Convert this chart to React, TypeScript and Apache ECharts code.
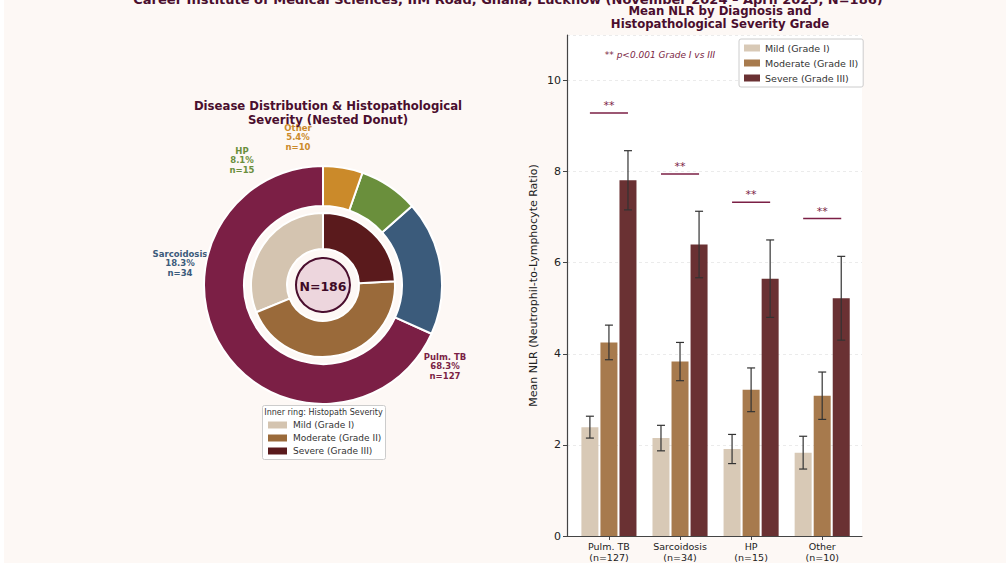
import React, { useEffect, useRef } from "react";
import * as echarts from "echarts";

const FONT = "DejaVu Sans";

const diagnoses = ["Pulm. TB", "Sarcoidosis", "HP", "Other"];
const diagnosisCounts = [127, 34, 15, 10];
const diagnosisPct = ["68.3%", "18.3%", "8.1%", "5.4%"];
const diagnosisColors = ["#7b1f45", "#3b5b7b", "#6a8f3c", "#cb8a2a"];

const severityNames = ["Mild (Grade I)", "Moderate (Grade II)", "Severe (Grade III)"];
const severityCounts = [58, 83, 45];
const severityColors = ["#d4c4b0", "#9a6a3a", "#5a1a1c"];
const barColors = ["#d8c9b6", "#a77a4d", "#6a3133"];

const xLabels = ["Pulm. TB\n(n=127)", "Sarcoidosis\n(n=34)", "HP\n(n=15)", "Other\n(n=10)"];
const mildNLR = [2.39, 2.15, 1.91, 1.83];
const mildErr = [0.24, 0.28, 0.32, 0.36];
const moderateNLR = [4.25, 3.83, 3.21, 3.08];
const moderateErr = [0.38, 0.42, 0.48, 0.52];
const severeNLR = [7.81, 6.40, 5.65, 5.22];
const severeErr = [0.65, 0.73, 0.85, 0.92];
const sigLineY = [9.29, 7.95, 7.33, 6.97];
const yTicks = [0, 2, 4, 6, 8, 10];
const xPositions = [0, 1, 2, 3];

const TITLE_COLOR = "#4a0e2e";
const SIG_COLOR = "#7b1f45";

export default function App() {
  const ref = useRef<HTMLDivElement>(null);
  useEffect(() => {
    document.body.style.margin = "0";
    const chart = echarts.init(ref.current!, null, { renderer: "svg" });
    const means = [mildNLR, moderateNLR, severeNLR];
    const errs = [mildErr, moderateErr, severeErr];
    const errData: number[][] = [];
    means.forEach((arr, s) => arr.forEach((m, i) => errData.push([xPositions[i], m - errs[s][i], m + errs[s][i], s - 1])));
    const OFF = 19.04;

    const labelPos = [
      { x: 445, y: 352 },
      { x: 180, y: 249 },
      { x: 242, y: 146 },
      { x: 298, y: 123 },
    ];
    const graphics: any[] = [
      { type: "rect", left: 0, top: 0, shape: { width: 4, height: 563 }, style: { fill: "#ffffff" }, silent: true },
      {
        type: "text", x: 508, y: 6,
        style: {
          text: "Career Institute of Medical Sciences, IIM Road, Ghaila, Lucknow (November 2024 – April 2025, N=186)",
          fill: TITLE_COLOR, font: `bold 13px "${FONT}"`, textAlign: "center", textVerticalAlign: "bottom",
        },
      },
      {
        type: "text", x: 660, y: 55,
        style: { text: "** p<0.001 Grade I vs III", fill: SIG_COLOR, font: `italic 9px "${FONT}"`, textAlign: "center", textVerticalAlign: "middle" },
      },
      { type: "circle", shape: { cx: 323, cy: 285, r: 27 }, style: { fill: "#edd6dd", stroke: TITLE_COLOR, lineWidth: 2 }, z: 10 },
      {
        type: "text", x: 323, y: 286, z: 11,
        style: { text: "N=186", fill: "#3d0a26", font: `bold 12.5px "${FONT}"`, textAlign: "center", textVerticalAlign: "middle" },
      },
      { type: "rect", shape: { x: 262.5, y: 405.5, width: 123, height: 54, r: 2 }, style: { fill: "#ffffff", stroke: "#cccccc", lineWidth: 1 } },
      {
        type: "text", x: 323.5, y: 412,
        style: { text: "Inner ring: Histopath Severity", fill: "#333", font: `8px "${FONT}"`, textAlign: "center", textVerticalAlign: "middle" },
      },
    ];
    severityNames.forEach((n, k) => {
      graphics.push({ type: "rect", shape: { x: 268, y: 421.5 + k * 13, width: 19, height: 7 }, style: { fill: severityColors[k] } });
      graphics.push({
        type: "text", x: 293, y: 425 + k * 13,
        style: { text: n, fill: "#333", font: `9px "${FONT}"`, textAlign: "left", textVerticalAlign: "middle" },
      });
    });
    diagnoses.forEach((d, i) => {
      graphics.push({
        type: "text", x: labelPos[i].x, y: labelPos[i].y,
        style: {
          text: `${d}\n${diagnosisPct[i]}\nn=${diagnosisCounts[i]}`,
          fill: diagnosisColors[i], font: `bold 8.5px "${FONT}"`, lineHeight: 9.5,
          textAlign: "center", textVerticalAlign: "top",
        },
      });
    });

    const option: any = {
      animation: false,
      backgroundColor: "#fdf8f5",
      textStyle: { fontFamily: FONT },
      title: [
        {
          text: "Disease Distribution & Histopathological\nSeverity (Nested Donut)",
          left: 323, top: 94, textAlign: "center",
          textStyle: { fontFamily: FONT, fontSize: 11.7, fontWeight: "bold", color: TITLE_COLOR, lineHeight: 14 },
        },
        {
          text: "Mean NLR by Diagnosis and\nHistopathological Severity Grade",
          left: 715, top: -1, textAlign: "center",
          textStyle: { fontFamily: FONT, fontSize: 11.7, fontWeight: "bold", color: TITLE_COLOR, lineHeight: 13 },
        },
      ],
      legend: {
        orient: "vertical", left: 739, top: 39,
        data: severityNames,
        backgroundColor: "#ffffff", borderColor: "#cccccc", borderWidth: 1, borderRadius: 2,
        padding: [4, 5, 4, 5], itemWidth: 16, itemHeight: 7, itemGap: 5,
        textStyle: { fontFamily: FONT, fontSize: 9.5, color: "#333" },
        icon: "rect",
      },
      grid: {
        left: 567, right: 144, top: 35, bottom: 26, show: true, backgroundColor: "#ffffff", borderWidth: 0,
      },
      xAxis: {
        type: "value", min: -0.59, max: 3.56,
        axisLine: { onZero: false, lineStyle: { color: "#444", width: 1.2 } },
        axisTick: { show: true, length: 4, lineStyle: { color: "#444" }, customValues: xPositions },
        axisLabel: {
          fontFamily: FONT, fontSize: 9.5, color: "#222", lineHeight: 11, margin: 5,
          customValues: xPositions, formatter: (v: number) => xLabels[Math.round(v)] ?? "",
        },
        splitLine: { show: false },
      },
      yAxis: {
        type: "value", min: 0, max: 11, interval: 2,
        name: "Mean NLR (Neutrophil-to-Lymphocyte Ratio)", nameLocation: "middle", nameGap: 28,
        nameTextStyle: { fontFamily: FONT, fontSize: 11, color: "#222" },
        axisLine: { show: true, onZero: false, lineStyle: { color: "#444", width: 1.2 } },
        axisTick: { show: true, length: 4, lineStyle: { color: "#444" } },
        axisLabel: {
          fontFamily: FONT, fontSize: 11, color: "#222", margin: 6, showMaxLabel: false,
          formatter: (v: number) => (yTicks.includes(v) ? String(v) : ""),
        },
        splitLine: { show: true, lineStyle: { color: "#e6e6e6", type: [3, 3], width: 0.8 } },
      },
      series: [
        ...severityNames.map((n, s) => ({
          type: "bar", name: n, data: means[s].map((v, i) => [xPositions[i], v]), barWidth: 17, barGap: "12%",
          itemStyle: { color: barColors[s] },
        })),
        {
          type: "custom", name: "err", data: errData, z: 5,
          encode: { x: 0, y: [1, 2] },
          renderItem: (p: any, api: any) => {
            const lo = api.coord([api.value(0), api.value(1)]);
            const hi = api.coord([api.value(0), api.value(2)]);
            const x = lo[0] + api.value(3) * OFF;
            const st = { stroke: "#333", lineWidth: 1.2 };
            return {
              type: "group",
              children: [
                { type: "line", shape: { x1: x, y1: lo[1], x2: x, y2: hi[1] }, style: st },
                { type: "line", shape: { x1: x - 4, y1: lo[1], x2: x + 4, y2: lo[1] }, style: st },
                { type: "line", shape: { x1: x - 4, y1: hi[1], x2: x + 4, y2: hi[1] }, style: st },
              ],
            };
          },
        },
        {
          type: "custom", name: "sig", data: sigLineY.map((v, i) => [xPositions[i], v]), z: 5,
          encode: { x: 0, y: 1 },
          renderItem: (p: any, api: any) => {
            const c = api.coord([api.value(0), api.value(1)]);
            return {
              type: "group",
              children: [
                { type: "line", shape: { x1: c[0] - OFF, y1: c[1], x2: c[0] + OFF, y2: c[1] }, style: { stroke: SIG_COLOR, lineWidth: 1.5 } },
                {
                  type: "text",
                  style: {
                    text: "**", x: c[0], y: c[1] - 2, fill: SIG_COLOR, font: `11px "${FONT}"`,
                    textAlign: "center", textVerticalAlign: "bottom",
                  },
                },
              ],
            };
          },
        },
        {
          type: "pie", name: "Diagnosis", center: [323, 285], radius: [79, 119],
          startAngle: 90, clockwise: false,
          label: { show: false }, labelLine: { show: false }, emphasis: { disabled: true },
          itemStyle: { borderColor: "#ffffff", borderWidth: 2 },
          data: diagnoses.map((d, i) => ({ name: d, value: diagnosisCounts[i], itemStyle: { color: diagnosisColors[i] } })),
        },
        {
          type: "pie", name: "Severity", center: [323, 285], radius: [36, 72],
          startAngle: 90, clockwise: false,
          label: { show: false }, labelLine: { show: false }, emphasis: { disabled: true },
          itemStyle: { borderColor: "#ffffff", borderWidth: 2 },
          data: severityNames.map((n, k) => ({ name: n + " ", value: severityCounts[k], itemStyle: { color: severityColors[k] } })),
        },
      ],
      graphic: graphics,
    };
    chart.setOption(option);
    return () => chart.dispose();
  }, []);
  return <div ref={ref} style={{ width: 1006, height: 563 }} />;
}
